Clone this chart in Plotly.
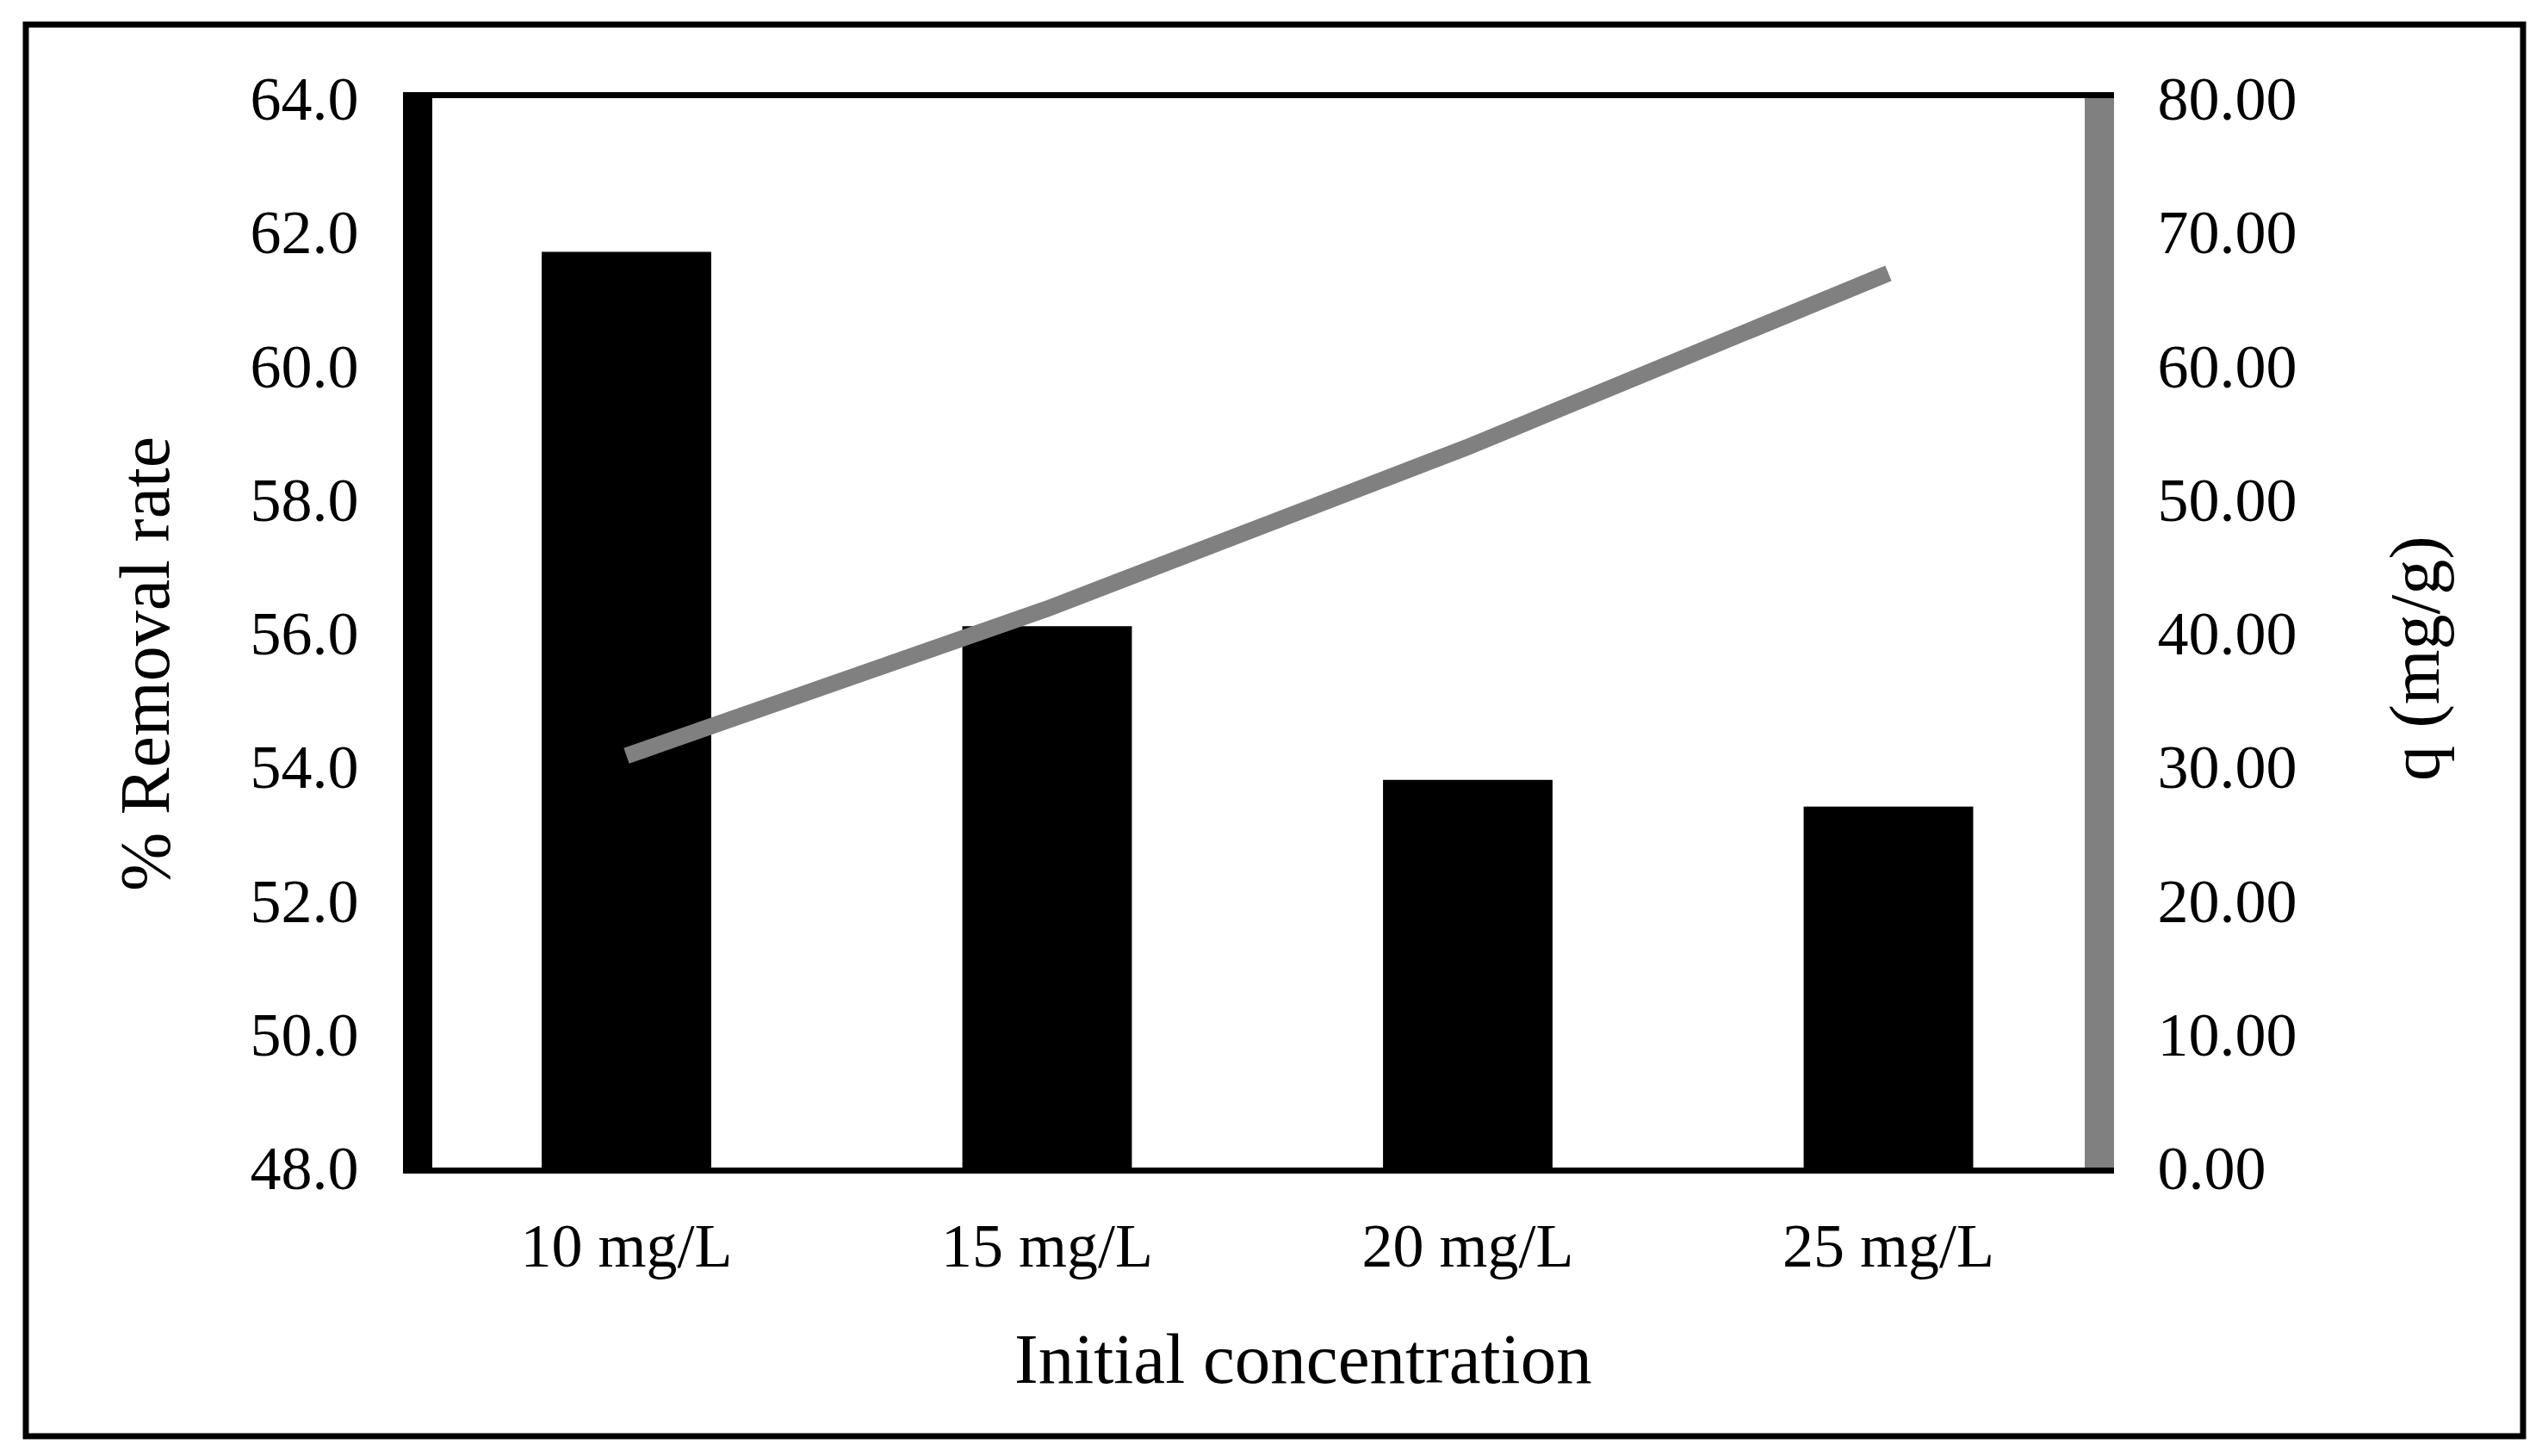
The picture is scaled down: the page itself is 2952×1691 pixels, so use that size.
import plotly.graph_objects as go

# ---- data ----
categories = ["10 mg/L", "15 mg/L", "20 mg/L", "25 mg/L"]
removal_rate = [61.7, 56.1, 53.8, 53.4]      # % Removal rate (left axis, bars)
q_values = [30.8, 41.8, 53.9, 66.9]          # q (mg/g) (right axis, line)
left_ticks = [48.0, 50.0, 52.0, 54.0, 56.0, 58.0, 60.0, 62.0, 64.0]
right_ticks = [0, 10, 20, 30, 40, 50, 60, 70, 80]

# ---- layout geometry (pixels) ----
W_FIG, H_FIG = 2952, 1691
L, R, T, B = 502, 2421, 114, 1356
PW, PH = R - L, B - T

def px_x(p):
    return (p - L) / PW

def px_y(p):
    return (B - p) / PH

FONT = "Liberation Serif, Times New Roman, serif"
GRAY = "#808080"

fig = go.Figure()
fig.add_trace(go.Bar(
    x=categories, y=removal_rate, marker=dict(color="black", line=dict(width=0)),
    width=0.403, yaxis="y", name="% Removal rate", showlegend=False,
))
fig.add_trace(go.Scatter(
    x=categories, y=q_values, mode="lines", yaxis="y2",
    line=dict(color=GRAY, width=19), name="q (mg/g)", showlegend=False,
))

fig.update_layout(
    width=W_FIG, height=H_FIG, autosize=False,
    margin=dict(l=L, r=W_FIG - R, t=T, b=H_FIG - B, pad=0),
    paper_bgcolor="white", plot_bgcolor="white",
    font=dict(family=FONT, size=72, color="black"),
    xaxis=dict(
        type="category", range=[-0.4616, 3.4667],
        showline=True, linecolor="black", linewidth=7, mirror=True,
        showgrid=False, zeroline=False, ticks="",
        tickfont=dict(family=FONT, size=72, color="black"),
        ticklabelstandoff=22,
    ),
    yaxis=dict(
        range=[48, 64], tickvals=left_ticks, tickformat=".1f",
        showline=True, linecolor="black", linewidth=34,
        showgrid=False, zeroline=False, ticks="",
        tickfont=dict(family=FONT, size=72, color="black"),
        ticklabelstandoff=37, automargin=False,
    ),
    yaxis2=dict(
        range=[0, 80], tickvals=right_ticks, tickformat=".2f",
        overlaying="y", side="right",
        showline=True, linecolor=GRAY, linewidth=34,
        showgrid=False, zeroline=False, ticks="",
        tickfont=dict(family=FONT, size=72, color="black"),
        ticklabelstandoff=36, automargin=False,
    ),
    annotations=[
        dict(text="% Removal rate", xref="paper", yref="paper",
             x=px_x(168), y=px_y(771), xanchor="center", yanchor="middle",
             textangle=-90, showarrow=False, font=dict(family=FONT, size=82, color="black")),
        dict(text="q (mg/g)", xref="paper", yref="paper",
             x=px_x(2804), y=px_y(765), xanchor="center", yanchor="middle",
             textangle=-90, showarrow=False, font=dict(family=FONT, size=82, color="black")),
        dict(text="Initial concentration", xref="paper", yref="paper",
             x=px_x(1513), y=px_y(1578), xanchor="center", yanchor="middle",
             showarrow=False, font=dict(family=FONT, size=83, color="black")),
    ],
    shapes=[
        dict(type="rect", xref="paper", yref="paper",
             x0=px_x(30), x1=px_x(2930), y0=px_y(1668), y1=px_y(28.5),
             line=dict(color="black", width=7), fillcolor="rgba(0,0,0,0)", layer="above"),
    ],
)

fig.write_html(
    "out.html",
    config={"displayModeBar": False},
    post_script="document.body.style.margin='0px';document.body.style.overflow='hidden';",
)
